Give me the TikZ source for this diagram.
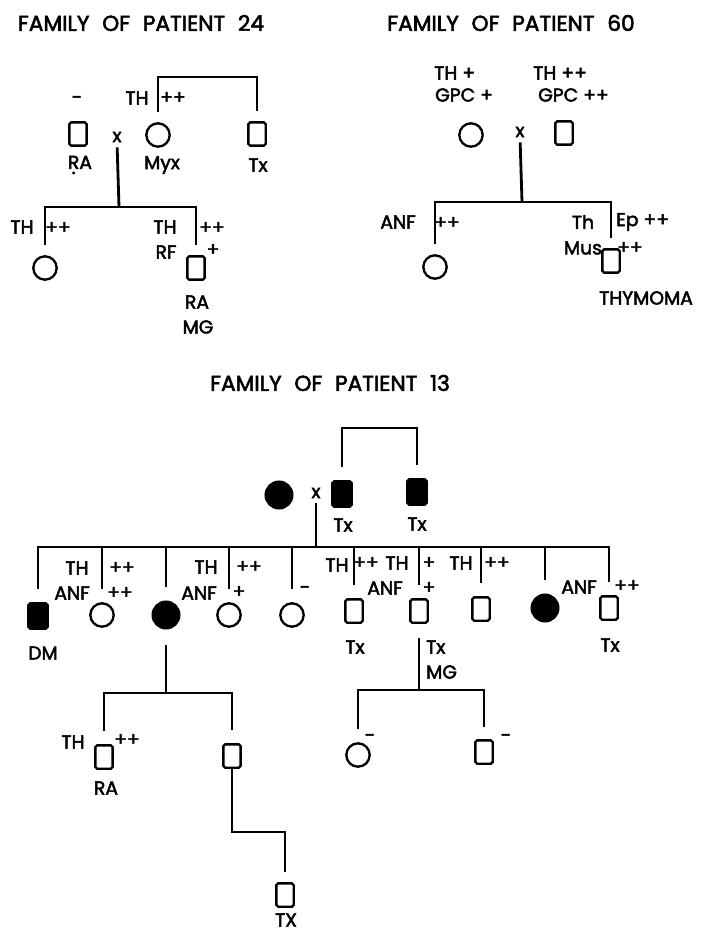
\documentclass[tikz,border=0pt]{standalone}
\usepackage{fontspec}
\setmainfont{Poppins}[FakeBold=2.5]
\newfontfamily\ttlfont{Poppins}[FakeBold=2.5, WordSpace=2.2]
\newcommand\udot[1]{\leavevmode\setbox0\hbox{#1}\rlap{\hbox to\wd0{\hss\raisebox{-0.5ex}{.}\hss}}#1} % 下に点のある文字
\tikzset{
  lab/.style={inner sep=0pt, font=\fontsize{16}{18}\selectfont}, % 記号の横の文字
  ttl/.style={inner sep=0pt, font=\ttlfont\fontsize{18.5}{20}\selectfont}, % 家系の見出し
  sq/.style={draw, line width=2pt, rounded corners=1.5pt, inner sep=0pt, minimum width=0.52cm, minimum height=0.7cm}, % 男性
  fsq/.style={sq, fill=black, minimum width=0.58cm, minimum height=0.76cm}, % 罹患した男性
  circ/.style={draw, circle, line width=2pt, inner sep=0pt, minimum size=0.7cm}, % 女性
  fcirc/.style={circ, fill=black, minimum size=0.8cm}, % 罹患した女性
  ped/.style={line width=2.4pt, shorten <=0.3cm}, % 家系の線（子の側をあける）
  pedb/.style={ped, shorten >=0.3cm}, % 両端をあける線
}
\begin{document}
\begin{tikzpicture}[x=0.03cm,y=-0.03cm]
  \useasboundingbox (0,0) rectangle (707,934); % 図の大きさ
  % 患者24の家系
  \node[ttl] (tit24) at (141,23) {FAMILY OF PATIENT 24}; % 見出し
  \node[sq] (ra24) at (78,134) {}; % 夫
  \node[lab] (ra24m) at (77,100) {-}; % 夫の結果
  \node[lab] (ra24l) at (80,165) {\udot{R}A}; % 夫の病名
  \node[lab] (x24) at (117,137) {x}; % 婚姻
  \node[circ] (myx) at (158,135) {}; % 妻
  \node[lab] (myxl) at (162,165) {Myx}; % 妻の病名
  \node[lab] (myxa) at (137,98) {TH}; % 妻の抗体
  \node[lab] (myxb) at (173,98) {++}; % 妻の抗体価
  \node[sq] (tx24) at (257,134) {}; % 妻の兄弟
  \node[lab] (tx24l) at (258,165) {Tx}; % 兄弟の病名
  \coordinate (top24) at (200,77); % 同胞の線
  \draw[pedb] (myx.north) |- (top24) -| (tx24.north); % 同胞を結ぶ線
  \coordinate (sib24) at (119,207); % 子の線
  \node[circ] (c24a) at (45,268) {}; % 娘
  \node[lab] (c24al) at (22,227) {TH}; % 娘の抗体
  \node[lab] (c24ab) at (58,228) {++}; % 娘の抗体価
  \node[sq] (s24b) at (196,268) {}; % 息子
  \node[lab] (s24bt) at (165,227) {TH}; % 息子の抗体
  \node[lab] (s24br) at (166,252) {RF}; % 息子のRF
  \node[lab] (s24bp) at (212,228) {++}; % THの値
  \node[lab] (s24bq) at (213,250) {+}; % RFの値
  \node[lab] (s24bl) at (197,302) {RA}; % 息子の病名
  \node[lab] (s24bm) at (198,327) {MG}; % 息子の病名
  \draw[ped, shorten <=0.15cm] (x24.south) -- (sib24); % 婚姻から子へ
  \draw[pedb] (c24a.north) |- (sib24) -| (s24b.north); % 子を結ぶ線
  % 患者60の家系
  \node[ttl] (tit60) at (511,23) {FAMILY OF PATIENT 60}; % 見出し
  \node[lab, anchor=west] (c60t) at (434,73) {TH +}; % 母の抗体
  \node[lab, anchor=west] (c60g) at (435,95) {GPC +}; % 母の抗体
  \node[lab, anchor=west] (s60t) at (533,73) {TH ++}; % 父の抗体
  \node[lab, anchor=west] (s60g) at (538,95) {GPC ++}; % 父の抗体
  \node[circ] (c60) at (471,135) {}; % 母
  \node[lab] (x60) at (520,132) {x}; % 婚姻
  \node[sq] (s60) at (564,133) {}; % 父
  \coordinate (sib60) at (522,202); % 子の線
  \node[circ] (c60a) at (435,267) {}; % 娘
  \node[lab] (c60al) at (398,222) {ANF}; % 娘の抗体
  \node[lab] (c60ab) at (447,223) {++}; % 娘の抗体価
  \node[sq] (s60b) at (611,261) {}; % 息子
  \node[lab] (s60bt) at (583,222) {Th}; % 息子の抗体
  \node[lab, anchor=west] (s60be) at (616,222) {Ep ++}; % 息子の抗体
  \node[lab] (s60bm) at (583,248) {Mus}; % 息子の抗体
  \node[lab] (s60bp) at (630,248) {++}; % Musの値
  \node[lab] (s60bl) at (646,298) {THYMOMA}; % 息子の病名
  \draw[ped, shorten <=0.15cm] (x60.south) -- (sib60); % 婚姻から子へ
  \draw[pedb] (c60a.north) |- (sib60) -| (s60b.north); % 子を結ぶ線
  % 患者13の家系
  \node[ttl] (tit13) at (330,383) {FAMILY OF PATIENT 13}; % 見出し
  \coordinate (top13) at (380,428); % 同胞の線
  \node[fcirc] (f13) at (279,495) {}; % 母
  \node[lab] (x13) at (316,493) {x}; % 婚姻
  \node[fsq] (fs13a) at (342,494) {}; % 父
  \node[fsq] (fs13b) at (417,492) {}; % 父の兄弟
  \node[lab] (fs13al) at (343,525) {Tx}; % 父の病名
  \node[lab] (fs13bl) at (417,524) {Tx}; % 兄弟の病名
  \draw[pedb, shorten <=0.39cm, shorten >=0.39cm] (fs13a.north) |- (top13) -| (fs13b.north); % 同胞を結ぶ線
  \coordinate (sib13) at (316,547); % 子の線
  \node[fsq] (dm13) at (38,616) {}; % 子1
  \node[circ] (c13a) at (102,615) {}; % 子2
  \node[fcirc] (f13c) at (166,615) {}; % 子3
  \node[circ] (c13d) at (229,615) {}; % 子4
  \node[circ] (c13e) at (292,615) {}; % 子5
  \node[sq] (s13f) at (354,611) {}; % 子6
  \node[sq] (s13g) at (419,611) {}; % 子7
  \node[sq] (s13h) at (481,609) {}; % 子8
  \node[fcirc] (f13i) at (545,608) {}; % 子9
  \node[sq] (s13j) at (609,608) {}; % 子10
  \draw[pedb, shorten <=0.39cm, shorten >=0.39cm] (dm13.north) |- (sib13) -| (s13j.north); % 子を結ぶ線
  \draw[ped, shorten <=0.15cm] (x13.south) -- (sib13); % 婚姻から子へ
  \foreach \n in {c13a,f13c,c13d,c13e,s13f,s13g,s13h,f13i}
    \draw[ped, shorten <=0.39cm] (\n.north) -- (\n.north |- sib13); % 子の縦線
  \node[lab] (dm13l) at (43,653) {DM}; % 子1の病名
  \node[lab] (c13at) at (77,568) {TH}; % 子2の抗体
  \node[lab] (c13ap) at (122,568) {++}; % 子2の抗体価
  \node[lab] (c13an) at (72,593) {ANF}; % 子2の抗体
  \node[lab] (c13aq) at (120,593) {++}; % 子2の抗体価
  \node[lab] (c13dt) at (206,567) {TH}; % 子4の抗体
  \node[lab] (c13dp) at (249,567) {++}; % 子4の抗体価
  \node[lab] (c13dn) at (199,593) {ANF}; % 子4の抗体
  \node[lab] (c13dq) at (239,592) {+}; % 子4の抗体価
  \node[lab] (c13em) at (305,590) {-}; % 子5の結果
  \node[lab] (s13ft) at (337,565) {TH}; % 子6の抗体
  \node[lab] (s13fp) at (366,563) {++}; % 子6の抗体価
  \node[lab] (s13fl) at (355,647) {Tx}; % 子6の病名
  \node[lab] (s13gt) at (397,563) {TH}; % 子7の抗体
  \node[lab] (s13gp) at (429,563) {+}; % 子7の抗体価
  \node[lab] (s13gn) at (385,588) {ANF}; % 子7の抗体
  \node[lab] (s13gq) at (429,588) {+}; % 子7の抗体価
  \node[lab, anchor=west] (s13gl) at (426,647) {Tx}; % 子7の病名
  \node[lab, anchor=west] (s13gm) at (426,672) {MG}; % 子7の病名
  \node[lab] (s13ht) at (461,563) {TH}; % 子8の抗体
  \node[lab] (s13hp) at (497,563) {++}; % 子8の抗体価
  \node[lab] (s13jn) at (579,587) {ANF}; % 子10の抗体
  \node[lab] (s13jp) at (627,586) {++}; % 子10の抗体価
  \node[lab] (s13jl) at (610,645) {Tx}; % 子10の病名
  % 子3の子
  \coordinate (sib13c) at (167,693); % 孫の線
  \node[sq] (s13k) at (104,757) {}; % 孫1
  \node[lab] (s13kt) at (73,742) {TH}; % 孫1の抗体
  \node[lab] (s13kp) at (127,740) {++}; % 孫1の抗体価
  \node[lab] (s13kl) at (106,788) {RA}; % 孫1の病名
  \node[sq] (s13l) at (232,756) {}; % 孫2
  \draw[ped, shorten <=0.45cm] (f13c.south) -- (f13c.south |- sib13c); % 子3から孫へ
  \draw[pedb, shorten <=0.39cm, shorten >=0.39cm] (s13k.north) |- (sib13c) -| (s13l.north); % 孫を結ぶ線
  \coordinate (k13) at (258,832); % 曾孫への折れ
  \node[sq] (s13m) at (285,895) {}; % 曾孫
  \node[lab] (s13ml) at (286,920) {TX}; % 曾孫の病名
  \draw[ped, shorten <=0pt, shorten >=0.3cm] (s13l.south) |- (k13) -| (s13m.north); % 孫2から曾孫へ
  % 子7の子
  \coordinate (sib13g) at (420,690); % 孫の線
  \node[circ] (c13n) at (358,755) {}; % 孫3
  \node[lab] (c13nm) at (370,738) {-}; % 孫3の結果
  \node[sq] (s13o) at (484,752) {}; % 孫4
  \node[lab] (s13om) at (506,738) {-}; % 孫4の結果
  \draw[ped, shorten <=0.42cm] (s13g.south) -- (s13g.south |- sib13g); % 子7から孫へ
  \draw[pedb, shorten <=0.39cm, shorten >=0.36cm] (c13n.north) |- (sib13g) -| (s13o.north); % 孫を結ぶ線
\end{tikzpicture}
\end{document}
